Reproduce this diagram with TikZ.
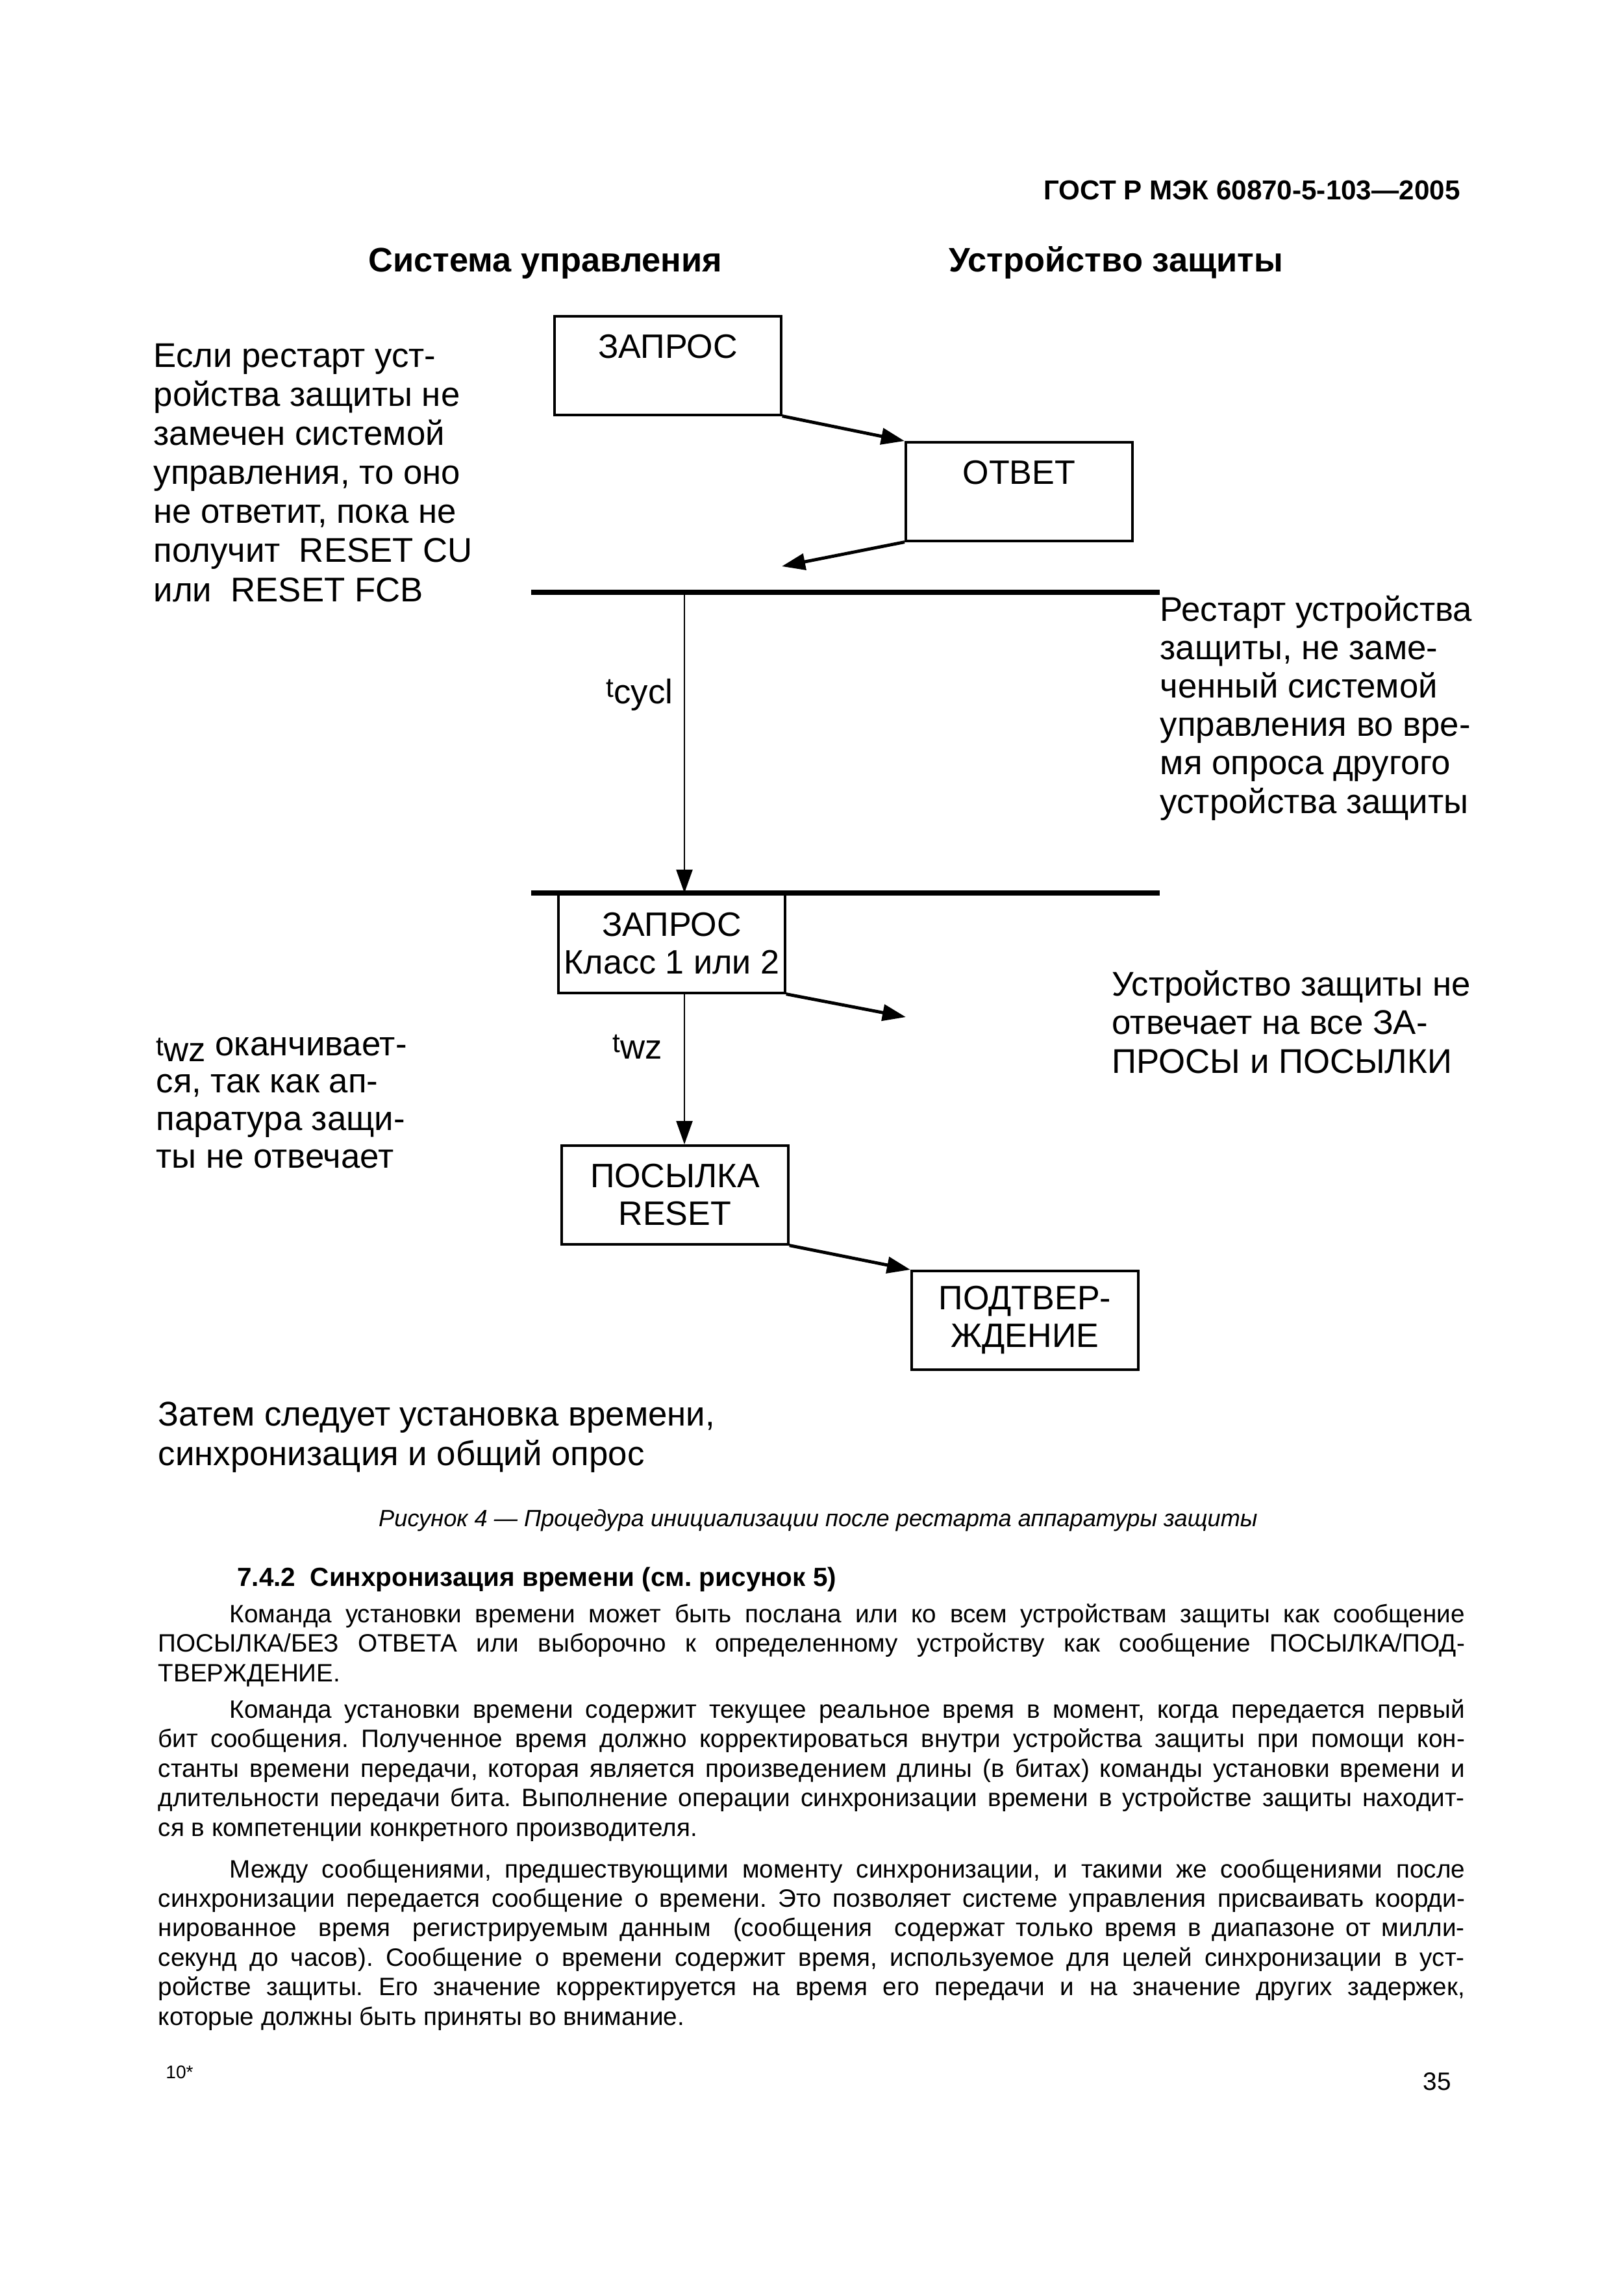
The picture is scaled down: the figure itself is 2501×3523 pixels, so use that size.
\documentclass[tikz,border=0pt]{standalone}
\usepackage{fontspec}
\setmainfont{Liberation Sans}
\usetikzlibrary{positioning,arrows.meta}
\frenchspacing

\newcommand{\fsz}[2]{\fontsize{#1}{#2}\selectfont}
\newcommand{\tsub}[1]{{\fsz{12}{12}t}\raisebox{-0.35ex}{#1}}
\newlength{\bodywd}\setlength{\bodywd}{20.11cm}
\newlength{\bodyind}\setlength{\bodyind}{1.1cm}
\newlength{\bodyfwd}\setlength{\bodyfwd}{\dimexpr\bodywd-\bodyind\relax}
\newcommand{\jline}[1]{\makebox[\bodywd][s]{#1}}
\newcommand{\jfirst}[1]{\hspace*{\bodyind}\makebox[\bodyfwd][s]{#1}}

\begin{document}
\begin{tikzpicture}[x=0.01cm, y=-0.01cm,
  >={Triangle[length=3.6mm,width=2.5mm]},
  msgbox/.style={draw, line width=1pt, minimum width=3.49cm, minimum height=1.52cm,
    inner sep=2pt, align=center, anchor=north west, font=\fsz{14.8}{16.5}},
  note/.style={anchor=base west, align=left, inner sep=0pt, font=\fsz{15}{16.8}},
  bodytext/.style={anchor=base west, align=left, inner sep=0pt, font=\fsz{11}{12.9}},
  bar/.style={line width=2.4pt},
  msg/.style={->, line width=1.4pt},
  tim/.style={->, line width=0.7pt}]
  \fill[white] (0,0) rectangle (2501,3523);
  \useasboundingbox (0,0) rectangle (2501,3523);

  \node[anchor=base east, font=\bfseries\fsz{12}{14}] (gost) at (2261,307) {ГОСТ Р МЭК 60870-5-103—2005};
  \node[anchor=base west, font=\bfseries\fsz{14.9}{18}] (ctrl) at (555,418) {Система управления};
  \node[anchor=base west, font=\bfseries\fsz{14.9}{18}] (prot) at (1449,418) {Устройство защиты};

  \node[msgbox] (zap1) at (852,485) {ЗАПРОС\\ \phantom{ЗАПРОС}};
  \node[msgbox] (otvet) at (1393,679) {ОТВЕТ\\ \phantom{ОТВЕТ}};
  \node[msgbox] (zap2) at (858,1375) {ЗАПРОС\\ Класс 1 или 2};
  \node[msgbox] (posyl) at (863,1762) {ПОСЫЛКА\\ RESET};
  \node[msgbox] (podtv) at (1402,1955) {ПОДТВЕР-\\ ЖДЕНИЕ};

  \coordinate (ansend) at (1204,872);
  \coordinate (noans) at (1395,1566);
  \coordinate (bar1w) at (818,912);
  \coordinate (bar1e) at (1786,912);
  \coordinate (bar2w) at (818,1375);
  \coordinate (bar2e) at (1786,1375);
  \coordinate (tc) at (1054,912);
  \coordinate (tcend) at (1054,1375);

  \draw[msg] (zap1.south east) -- (otvet.north west);
  \draw[msg] (otvet.south west) -- (ansend);
  \draw[bar] (bar1w) -- (bar1e);
  \draw[tim] (tc) -- (tcend);
  \draw[bar] (bar2w) -- (bar2e);
  \draw[msg] (zap2.south east) -- (noans);
  \draw[tim] (zap2.south -| tc) -- (posyl.north -| tc);
  \draw[msg] (posyl.south east) -- (podtv.north west);

  \node[font=\fsz{15}{16}] (tcycl) at (985,1070) {\tsub{cycl}};
  \node[font=\fsz{15}{16}] (twz) at (982,1612) {\tsub{wz}};

  % multi-line notes: base is the last line
  \node[note, font=\fsz{15}{17.1}] (restartcu) at (236,926) {Если рестарт уст-\\ройства защиты не\\замечен системой\\управления, то оно\\не ответит, пока не\\получит \ RESET CU\\или \ RESET FCB};
  \node[note] (restartpd) at (1786,1252) {Рестарт устройства\\защиты, не заме-\\ченный системой\\управления во вре-\\мя опроса другого\\устройства защиты};
  \node[note] (noreply) at (1712,1652) {Устройство защиты не\\отвечает на все ЗА-\\ПРОСЫ и ПОСЫЛКИ};
  \node[note, font=\fsz{15}{16.4}] (twzend) at (240,1798) {\tsub{wz} оканчивает-\\ся, так как ап-\\паратура защи-\\ты не отвечает};
  \node[note, font=\fsz{15}{17.3}] (thensync) at (243,2256) {Затем следует установка времени,\\синхронизация и общий опрос};

  \node[anchor=base, font=\itshape\fsz{10.3}{12}] (caption) at (1260,2350) {Рисунок 4 — Процедура инициализации после рестарта аппаратуры защиты};

  \node[anchor=base west, font=\bfseries\fsz{11.5}{13}] (sect) at (353,2442) {7.4.2\ \ Синхронизация времени (см. рисунок 5)};
  \node[bodytext] (par1) at (243,2589) {\jfirst{Команда установки времени может быть послана или ко всем устройствам защиты как сообщение}\\
    \jline{ПОСЫЛКА/БЕЗ ОТВЕТА или выборочно к определенному устройству как сообщение ПОСЫЛКА/ПОД-}\\
    ТВЕРЖДЕНИЕ.};
  \node[bodytext] (par2) at (243,2827) {\jfirst{Команда установки времени содержит текущее реальное время в момент, когда передается первый}\\
    \jline{бит сообщения. Полученное время должно корректироваться внутри устройства защиты при помощи кон-}\\
    \jline{станты времени передачи, которая является произведением длины (в битах) команды установки времени и}\\
    \jline{длительности передачи бита. Выполнение операции синхронизации времени в устройстве защиты находит-}\\
    ся в компетенции конкретного производителя.};
  \node[bodytext] (par3) at (243,3118) {\jfirst{Между сообщениями, предшествующими моменту синхронизации, и такими же сообщениями после}\\
    \jline{синхронизации передается сообщение о времени. Это позволяет системе управления присваивать коорди-}\\
    \jline{нированное \ время \ регистрируемым данным \ (сообщения \ содержат только время в диапазоне от милли-}\\
    \jline{секунд до часов). Сообщение о времени содержит время, используемое для целей синхронизации в уст-}\\
    \jline{ройстве защиты. Его значение корректируется на время его передачи и на значение других задержек,}\\
    которые должны быть приняты во внимание.};

  \node[anchor=base west, font=\fsz{8}{9}] (sheetno) at (243,3200) {10*};
  \node[anchor=base east, font=\fsz{11}{12}] (pageno) at (2247,3218) {35};
\end{tikzpicture}
\end{document}
